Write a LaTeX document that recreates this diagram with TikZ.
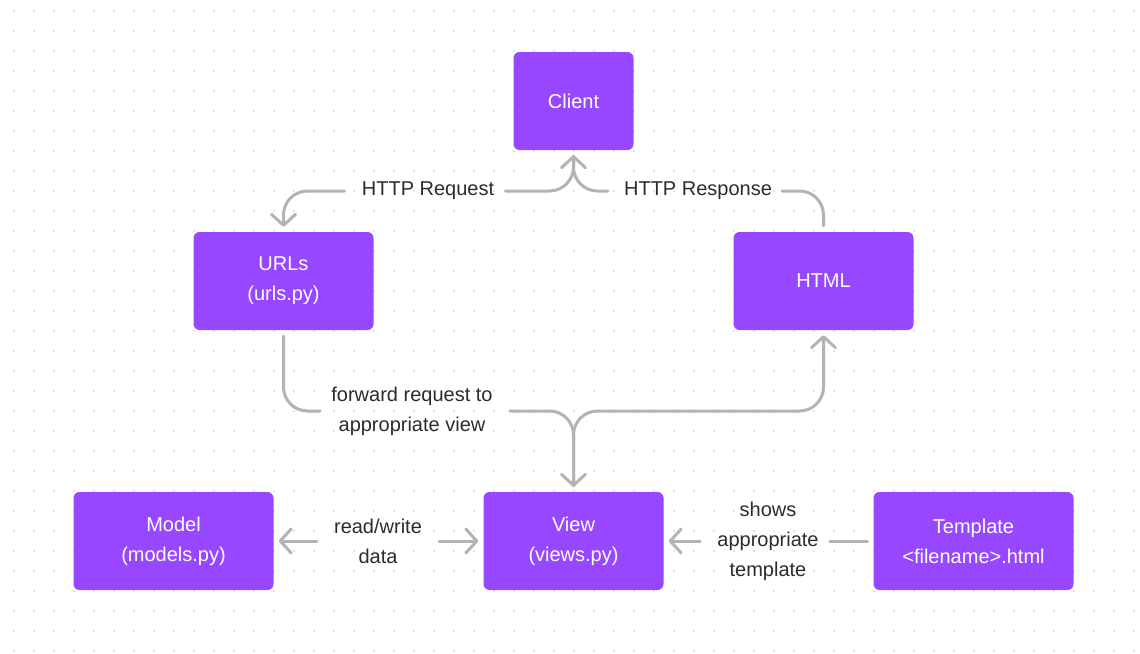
\documentclass[tikz,border=0pt]{standalone}
\usepackage{fontspec}
\setmainfont{Liberation Sans}
\usetikzlibrary{arrows.meta,positioning}

\definecolor{figpurple}{HTML}{9747FF}
\definecolor{linegray}{HTML}{B3B3B3}
\definecolor{dotgray}{HTML}{D9D9D9}
\definecolor{textgray}{HTML}{2C2C2C}

\tikzset{
  box/.style={fill=figpurple, rounded corners=6pt, text=white, align=center,
    minimum width=180pt, minimum height=98pt, font=\fontsize{20}{30}\selectfont},
  widebox/.style={box, minimum width=200pt},
  smallbox/.style={box, minimum width=120pt},
  lbl/.style={text=textgray, align=center, font=\fontsize{20}{30}\selectfont,
    inner xsep=11pt, inner ysep=0pt},
  conn/.style={draw=linegray, line width=3pt, line cap=round, line join=round,
    rounded corners=24pt, shorten <=6pt},
  arr/.style={conn, -{Straight Barb[length=11pt,width=24pt,round]}, shorten >=5pt},
}

\begin{document}
\begin{tikzpicture}[x=1pt,y=-1pt]

    % Sfondo
    \fill[white] (0,0) rectangle (1140,653);
    \useasboundingbox (0,0) rectangle (1140,653);
    \foreach \i in {0,...,56} {
        \foreach \j in {0,...,32} {
            \fill[dotgray] ({14+20*\i},{11+20*\j}) circle (1.1pt);
        }
    }

    % Blocchi
    \node (client)   at (573.5,101) [smallbox] {Client};
    \node (urls)     at (283.5,281) [box] {URLs\\(urls.py)};
    \node (html)     at (823.5,281) [box] {HTML};
    \node (model)    at (173.5,541) [widebox] {Model\\(models.py)};
    \node (view)     at (573.5,541) [box] {View\\(views.py)};
    \node (template) at (973.5,541) [widebox] {Template\\<filename>.html};

    % Etichette
    \node (lblreq)  at (428,191) [lbl] {HTTP Request};
    \node (lblresp) at (698,191) [lbl, inner xsep=10pt] {HTTP Response};
    \node (lblfwd)  at (412,411) [lbl] {forward request to\\appropriate view};
    \node (lblrw)   at (378,541) [lbl] {read/write\\data};
    \node (lblshow) at (768,541) [lbl] {shows\\appropriate\\template};

    % Richiesta e risposta
    \draw[conn] (client.south) |- (lblreq.east);
    \draw[arr] (lblreq.west) -| (urls.north);
    \draw[conn] (html.north) |- (lblresp.east);
    \draw[arr] (lblresp.west) -| (client.south);

    % Instradamento
    \draw[conn] (urls.south) |- (lblfwd.west);
    \draw[arr] (lblfwd.east) -| (view.north);
    \draw[arr] (view.north) |- (html.south |- lblfwd.east) -- (html.south);

    % Dati e template
    \draw[arr] (lblrw.west) -- (model.east);
    \draw[arr] (lblrw.east) -- (view.west);
    \draw[conn] (template.west) -- (lblshow.east);
    \draw[arr] (lblshow.west) -- (view.east);

\end{tikzpicture}
\end{document}
